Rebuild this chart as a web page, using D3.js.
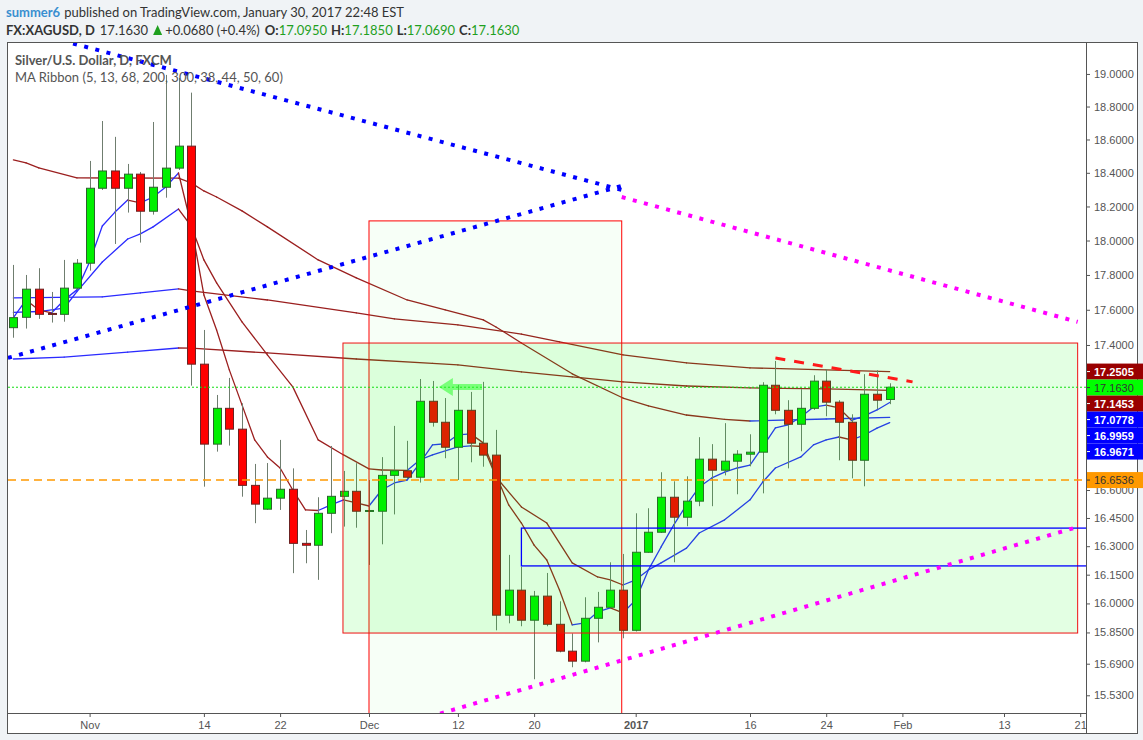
<!DOCTYPE html>
<html lang="en">
<head>
<meta charset="utf-8">
<script src="https://d3js.org/d3.v7.min.js"></script>
<style>
  body { margin: 0; background: #f0f3f6; }
  svg text { font-family: Lato, "Open Sans", sans-serif; }
</style>
</head>
<body>
<script>
// ---- data (bar index 0 = 24 Oct 2016, last bar 69 = 31 Jan 2017) ----
var opens = [17.498,17.557,17.718,17.579,17.574,17.724,17.868,18.308,18.411,18.308,
  18.392,18.172,18.314,18.428,18.560,17.292,16.849,17.046,16.931,16.625,
  16.497,16.556,16.604,16.315,16.305,16.475,16.566,16.593,16.486,16.486,
  16.679,16.704,16.669,17.085,16.969,16.832,17.035,16.854,16.789,15.939,
  16.069,15.913,16.038,15.892,15.754,15.703,15.923,15.980,16.069,15.861,
  16.268,16.374,16.561,16.454,16.540,16.767,16.707,16.756,16.794,16.805,
  17.174,17.035,16.958,17.046,17.197,17.080,16.969,16.761,17.124,17.095];
var highs = [17.858,17.800,17.839,17.702,17.887,17.892,18.471,18.712,18.616,18.453,
  18.405,18.706,18.994,18.975,18.885,17.485,17.120,17.215,17.074,16.741,
  16.746,16.872,16.717,16.386,16.561,16.839,16.703,16.745,16.654,16.778,
  16.949,16.867,17.209,17.198,17.103,17.176,17.137,17.193,16.927,16.254,
  16.191,16.065,16.159,16.011,15.845,16.032,16.060,16.215,16.259,16.475,
  16.502,16.696,16.647,16.674,16.887,16.849,16.964,16.816,16.903,17.191,
  17.310,17.091,17.152,17.230,17.264,17.091,17.013,17.236,17.258,17.185];
var lows = [17.441,17.493,17.548,17.527,17.532,17.714,17.825,18.298,17.980,18.164,
  17.988,18.152,18.252,18.417,17.172,16.618,16.808,16.841,16.564,16.422,
  16.493,16.493,16.158,16.210,16.123,16.369,16.404,16.398,16.201,16.310,
  16.469,16.660,16.640,16.945,16.772,16.654,16.750,16.726,15.861,15.897,
  15.882,15.611,15.882,15.748,15.672,15.697,15.799,15.975,15.820,15.855,
  16.265,16.370,16.215,16.406,16.513,16.513,16.679,16.577,16.728,16.582,
  17.013,16.717,16.810,17.037,17.002,16.761,16.663,16.620,17.041,17.069];
var closes = [17.555,17.718,17.574,17.574,17.724,17.868,18.308,18.411,18.308,18.392,
  18.172,18.314,18.428,18.560,17.292,16.849,17.046,16.931,16.625,16.524,
  16.556,16.604,16.315,16.305,16.475,16.566,16.593,16.486,16.490,16.679,
  16.704,16.669,17.085,16.969,16.832,17.035,16.854,16.789,15.939,16.069,
  15.913,16.038,15.892,15.754,15.703,15.923,15.980,16.069,15.861,16.268,
  16.374,16.561,16.454,16.540,16.767,16.707,16.756,16.794,16.805,17.174,
  17.035,16.958,17.046,17.197,17.080,16.969,16.761,17.124,17.091,17.163];

// moving average ribbon, read as [bar index, price]
var ma5 = [[0,17.555],[1,17.656],[2,17.599],[3,17.582],[4,17.656],[5,17.714],[6,17.875],[7,18.085],
  [8,18.167],[9,18.238],[10,18.221],[11,18.256],[12,18.316],[13,18.399],[14,18.091],[15,17.685],
  [16,17.485],[17,17.260],[18,17.065],[19,16.872],[20,16.779],[21,16.719],[22,16.600],[23,16.493],
  [24,16.490],[25,16.520],[26,16.547],[27,16.531],[28,16.514],[29,16.600],[30,16.638],[31,16.654],
  [32,16.746],[33,16.845],[34,16.851],[35,16.900],[36,16.905],[37,16.856],[38,16.681],[39,16.520],
  [40,16.423],[41,16.306],[42,16.227],[43,16.070],[44,15.889],[45,15.899],[46,15.956],[47,15.977],
  [48,15.951],[49,16.018],[50,16.175],[51,16.296],[52,16.413],[53,16.520],[54,16.616],[55,16.665],
  [56,16.697],[57,16.719],[58,16.735],[59,16.834],[60,16.938],[61,16.954],[62,16.998],[63,17.053],
  [64,17.064],[65,17.048],[66,16.979],[67,17.004],[68,17.037],[69,17.078]];
var ma13 = [[0,17.585],[2,17.59],[4,17.61],[5,17.704],[7,17.875],[9,18.009],[10,18.039],[11,18.080],
  [13,18.185],[14,18.085],[15,17.887],[16,17.754],[18,17.531],[20,17.344],[22,17.165],[24,16.872],
  [26,16.790],[28,16.714],[29,16.708],[31,16.706],[32,16.763],[33,16.790],[35,16.834],[36,16.839],
  [37,16.836],[38,16.670],[40,16.509],[42,16.423],[44,16.212],[46,16.138],[47,16.123],[48,16.096],
  [49,16.123],[50,16.175],[51,16.212],[53,16.290],[54,16.370],[56,16.440],[58,16.547],[59,16.643],
  [60,16.719],[62,16.779],[63,16.845],[64,16.872],[65,16.888],[66,16.872],[67,16.899],[68,16.937],[69,16.967]];
var ma68 = [[0,18.477],[1,18.459],[2,18.429],[5,18.370],[8,18.369],[13,18.368],[14,18.340],[15,18.292],
  [16,18.256],[18,18.174],[20,18.080],[24,17.887],[27,17.783],[31,17.656],[34,17.599],[37,17.542],
  [38,17.502],[40,17.411],[44,17.238],[48,17.103],[50,17.059],[53,17.009],[56,16.985],[58,16.976],
  [64,16.987],[69,16.996]];
var ma200 = [[0,17.668],[7,17.674],[10,17.697],[13,17.720],[14,17.708],[20,17.656],[27,17.582],
  [30,17.548],[35,17.514],[40,17.462],[43,17.417],[48,17.344],[53,17.299],[58,17.271],[64,17.260],[69,17.2505]];
var ma300 = [[0,17.321],[4,17.332],[9,17.360],[13,17.383],[14,17.382],[20,17.355],[27,17.321],
  [33,17.296],[35,17.288],[40,17.249],[44,17.221],[48,17.193],[53,17.170],[58,17.159],[64,17.154],[69,17.1453]];

// drawings, anchored as [bar index, price]
var lineDownBlue = [[4.7,19.189],[47.9,18.298]];
var lineUpBlue = [[-0.43,17.327],[47.9,18.322]];
var lineDownPink = [[47.9,18.256],[83.8,17.531]];
var lineUpPink = [[33.6,15.438],[84,16.406]];
var lineResist = [[60,17.327],[70.8,17.193]];
var boxGreen = [[25.95,17.411],[83.8,15.847]];
var boxTall = [[28,18.115],[47.9,15.3]];
var boxBlue = [[40,16.396],[86,16.196]];
var supportLevel = 16.6536;
var lastPrice = 17.163;
var arrowSpan = [[33.5,17.165],[36.9,17.165]];

// axes
var priceTicks = [19.0,18.8,18.6,18.4,18.2,18.0,17.8,17.6,17.4,16.6,16.45,16.3,16.15,16.0,15.85,15.69,15.53];
var dateTickIdx = [6,15,21,28,35,41,49,58,64,70,78,84];
var dateTickText = ["Nov","14","22","Dec","12","20","2017","16","24","Feb","13","21"];

// price scale badges
var badgeValues = [17.2505,17.1630,17.1453,17.0778,16.9959,16.9671,16.6536];
var badgeKinds = ["red","last","red","blue","blue","blue","orange"];

// ---- chart ----
var W = 1143, H = 740;
var pL = 8, pR = 1086, pT = 42, pB = 713;

var svg = d3.select("body").append("svg").attr("width", W).attr("height", H);
svg.append("rect").attr("width", W).attr("height", H).attr("fill", "#f0f3f6");
svg.append("rect").attr("x", 7.5).attr("y", 42.5).attr("width", 1130).attr("height", 691)
  .attr("fill", "#fff").attr("stroke", "#555");

var x = d3.scaleLinear().domain([0, 84]).range([13.4, 13.4 + 84 * 12.7]);
var y = d3.scaleLog().domain([19.198, 15.441]).range([pT, pB]);

svg.append("clipPath").attr("id", "plot").append("rect")
  .attr("x", pL).attr("y", pT + 1).attr("width", pR - pL).attr("height", pB - pT - 1);
var plot = svg.append("g").attr("clip-path", "url(#plot)");

// MA ribbon: blue while rising, dark red while falling
var blue = "#2b2bff", maroon = "#9b1f1f";
[ma300, ma200, ma68, ma13, ma5].forEach(function(ma) {
  for (var k = 0; k < ma.length - 1; k++) {
    plot.append("line")
      .attr("x1", x(ma[k][0])).attr("y1", y(ma[k][1]))
      .attr("x2", x(ma[k + 1][0])).attr("y2", y(ma[k + 1][1]))
      .attr("stroke", ma[k + 1][1] > ma[k][1] ? blue : maroon)
      .attr("stroke-width", 1.3)
      .attr("stroke-linecap", "round");
  }
});

// candles
var candles = plot.selectAll(".candle").data(d3.range(opens.length)).enter()
  .append("g").attr("class", "candle");
candles.append("line")
  .attr("x1", function(i) { return Math.round(x(i)) + 0.5; })
  .attr("x2", function(i) { return Math.round(x(i)) + 0.5; })
  .attr("y1", function(i) { return y(highs[i]); })
  .attr("y2", function(i) { return y(lows[i]); })
  .attr("stroke", "#6f7d6f");
candles.append("rect")
  .attr("x", function(i) { return Math.round(x(i)) - 3.5; })
  .attr("width", 8)
  .attr("y", function(i) { return y(Math.max(opens[i], closes[i])); })
  .attr("height", function(i) { return Math.max(1, y(Math.min(opens[i], closes[i])) - y(Math.max(opens[i], closes[i]))); })
  .attr("fill", function(i) { return closes[i] >= opens[i] ? "#00f000" : "#ff0000"; })
  .attr("stroke", function(i) { return closes[i] >= opens[i] ? "#2c632c" : "#6b2222"; });

// rectangles (translucent, over the bars)
function box(b, fill, stroke, sw) {
  plot.append("rect")
    .attr("x", x(b[0][0])).attr("y", y(b[0][1]))
    .attr("width", x(b[1][0]) - x(b[0][0]))
    .attr("height", y(b[1][1]) - y(b[0][1]))
    .attr("fill", fill).attr("stroke", stroke).attr("stroke-width", sw);
}
box(boxTall, "rgba(0,255,0,0.03)", "#ff0000", 1);
box(boxGreen, "rgba(0,255,0,0.11)", "#ee1111", 1);
box(boxBlue, "none", "#0000ff", 1.3);

// horizontal levels
plot.append("line").attr("x1", pL).attr("x2", pR)
  .attr("y1", y(supportLevel)).attr("y2", y(supportLevel))
  .attr("stroke", "#ff9900").attr("stroke-width", 1.5).attr("stroke-dasharray", "8,5");
plot.append("line").attr("x1", pL).attr("x2", pR)
  .attr("y1", y(lastPrice)).attr("y2", y(lastPrice))
  .attr("stroke", "#11dd11").attr("stroke-width", 1).attr("stroke-dasharray", "2,2");

// trend lines
function seg(l, color, width, dash) {
  plot.append("line")
    .attr("x1", x(l[0][0])).attr("y1", y(l[0][1]))
    .attr("x2", x(l[1][0])).attr("y2", y(l[1][1]))
    .attr("stroke", color).attr("stroke-width", width).attr("stroke-dasharray", dash);
}
seg(lineDownBlue, "#0000ff", 4, "4,7.5");
seg(lineUpBlue, "#0000ff", 4, "4,7.5");
seg(lineDownPink, "#ff00ff", 4, "4,7.5");
seg(lineUpPink, "#ff00ff", 4, "4,7.5");
seg(lineResist, "#ff1a1a", 3, "10,9");

// green arrow pointing left
var ax0 = x(arrowSpan[0][0]), ax1 = x(arrowSpan[1][0]), ay = y(arrowSpan[0][1]);
plot.append("path")
  .attr("d", "M" + ax0 + "," + ay + "L" + (ax0 + 14) + "," + (ay - 9) + "L" + (ax0 + 14) + "," + (ay - 3) +
    "L" + ax1 + "," + (ay - 3) + "L" + ax1 + "," + (ay + 3) + "L" + (ax0 + 14) + "," + (ay + 3) +
    "L" + (ax0 + 14) + "," + (ay + 9) + "Z")
  .attr("fill", "rgba(40,255,40,0.55)");

// axes
var yAxis = svg.append("g").attr("transform", "translate(" + pR + ",0)")
  .call(d3.axisRight(y).tickValues(priceTicks).tickFormat(d3.format(".4f")).tickSize(4).tickPadding(4));
yAxis.select(".domain").remove();
yAxis.selectAll("line").attr("stroke", "#555");
yAxis.selectAll("text").attr("fill", "#555").style("font-family", "'Liberation Sans', Arial, sans-serif").style("font-size", "11px");

var xAxis = svg.append("g").attr("transform", "translate(0," + pB + ")")
  .call(d3.axisBottom(x).tickValues(dateTickIdx).tickFormat(function(d, k) { return dateTickText[k]; }).tickSize(4).tickPadding(4));
xAxis.select(".domain").remove();
xAxis.selectAll("line").attr("stroke", "#555");
xAxis.selectAll("text").attr("fill", "#555")
  .style("font-family", "'Liberation Sans Narrow', 'Liberation Sans', Arial, sans-serif")
  .style("font-size", "11px")
  .style("font-weight", function(d, k) { return dateTickText[k] === "2017" ? "bold" : "normal"; });

svg.append("line").attr("x1", 7).attr("x2", pR + 0.5).attr("y1", pB + 0.5).attr("y2", pB + 0.5).attr("stroke", "#555");
svg.append("line").attr("x1", pR + 0.5).attr("x2", pR + 0.5).attr("y1", 42).attr("y2", 734).attr("stroke", "#555");

// badges on the price scale, stacked so they don't overlap
var badgeStyle = {
  red: { fill: "#990000", text: "#fff", weight: "bold" },
  last: { fill: "#00ff00", text: "#333", weight: "normal" },
  blue: { fill: "#0000ff", text: "#fff", weight: "bold" },
  orange: { fill: "#ff9900", text: "#333", weight: "normal" }
};
var prevY = -Infinity;
badgeValues.forEach(function(v, k) {
  var cy = Math.max(y(v), prevY + 16);
  prevY = cy;
  var st = badgeStyle[badgeKinds[k]];
  svg.append("rect").attr("x", pR + 1).attr("y", cy - 8).attr("width", W - pR - 1).attr("height", 16)
    .attr("fill", st.fill);
  svg.append("line").attr("x1", pR + 1).attr("x2", pR + 4).attr("y1", cy).attr("y2", cy)
    .attr("stroke", st.text);
  svg.append("text").attr("x", pR + 8).attr("y", cy + 4)
    .attr("fill", st.text).style("font-weight", st.weight)
    .style("font-family", "'Liberation Sans', Arial, sans-serif").style("font-size", "11px")
    .text(d3.format(".4f")(v));
});

// header: segments laid out one after another
function line(py, parts, startX) {
  var cx = startX;
  parts.forEach(function(p) {
    if (p.tri) {
      svg.append("path").attr("d", "M" + (cx + 1) + "," + py + "L" + (cx + 5.5) + "," + (py - 10) + "L" + (cx + 10) + "," + py + "Z")
        .attr("fill", "#1fa01f");
      cx += 10 + (p.gap || 0);
      return;
    }
    var n = svg.append("text").attr("x", cx).attr("y", py).attr("fill", p.c || "#333")
      .style("font-weight", p.b ? "bold" : "normal").style("font-size", (p.s || 13) + "px").text(p.t);
    cx += n.node().getComputedTextLength() + (p.gap || 0);
  });
}
line(17, [{ t: "summer6", c: "#3a8fd0", b: true, gap: 4 },
  { t: "published on TradingView.com, January 30, 2017 22:48 EST" }], 6);
line(35, [{ t: "FX:XAGUSD, D", b: true, gap: 5 }, { t: "17.1630", gap: 4 }, { tri: true, gap: 3 },
  { t: "+0.0680 (+0.4%)", gap: 5 }, { t: "O:", b: true }, { t: "17.0950", c: "#1fa01f", gap: 4 },
  { t: "H:", b: true }, { t: "17.1850", c: "#1fa01f", gap: 4 }, { t: "L:", b: true },
  { t: "17.0690", c: "#1fa01f", gap: 4 }, { t: "C:", b: true }, { t: "17.1630", c: "#1fa01f" }], 6);

// legend
line(65, [{ t: "Silver/U.S. Dollar, D, FXCM", c: "#555", b: true }], 15);
line(82, [{ t: "MA Ribbon (5, 13, 68, 200, 300, 38, 44, 50, 60)", c: "#555" }], 15);
</script>
</body>
</html>
